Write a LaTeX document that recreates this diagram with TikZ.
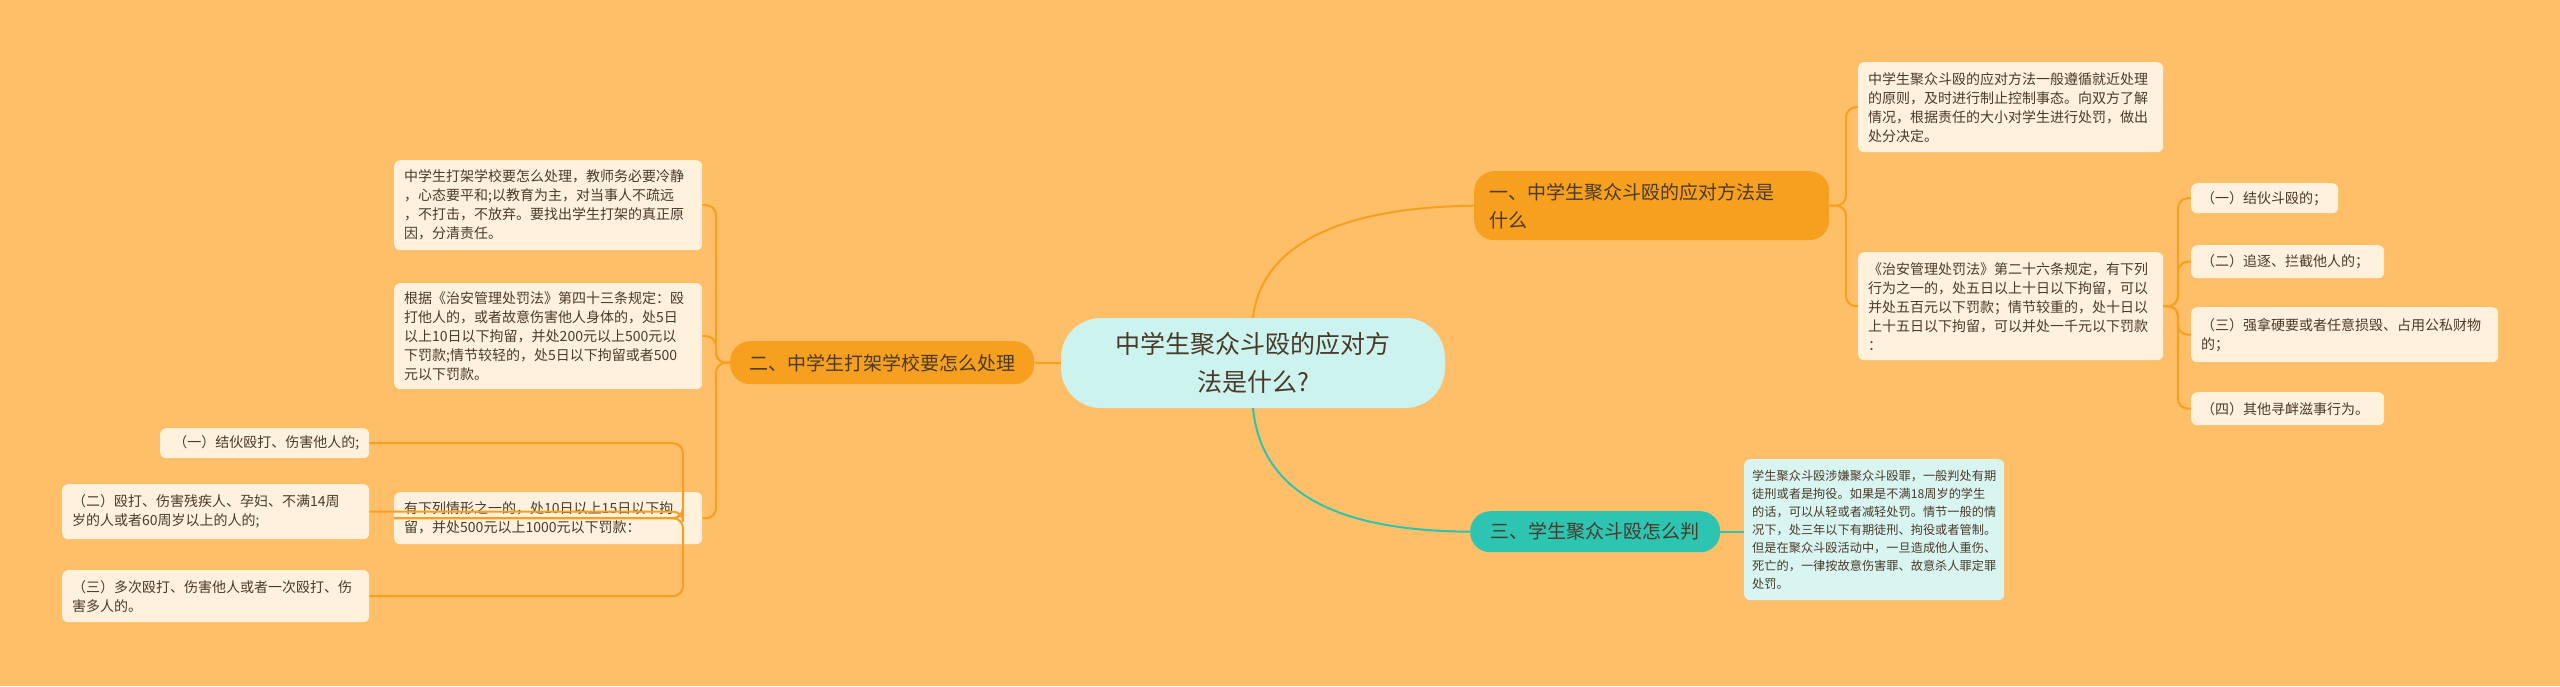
\documentclass[tikz,border=0pt]{standalone}
\usepackage{fontspec}
\setmainfont{Noto Sans CJK SC}
\definecolor{bg}{HTML}{FFBF69}
\definecolor{leaf}{HTML}{FFF1DC}
\definecolor{org}{HTML}{F79F1F}
\definecolor{teal}{HTML}{2EC4B2}
\definecolor{cfill}{HTML}{CDF3EF}
\definecolor{tleaf}{HTML}{D8F5F1}
\definecolor{txt}{HTML}{4A3A2A}
\tikzset{
 lf/.style={fill=leaf,rounded corners=6,anchor=north west,align=left,inner sep=0pt,text=txt,font=\fontsize{14}{19}\selectfont},
 br/.style={rounded corners=20,anchor=north west,inner sep=0pt,text=txt,font=\fontsize{19}{28}\selectfont,align=left},
 ol/.style={draw=org,line width=2pt,rounded corners=10},
 tl/.style={draw=teal,line width=2pt,rounded corners=10},
}
\begin{document}
\begin{tikzpicture}[x=1pt,y=-1pt]
\fill[bg] (0,0) rectangle (2560,686);
\useasboundingbox (0,0) rectangle (2560,686);
% center
\node[fill=cfill,rounded corners=40,minimum width=384,minimum height=90,text=txt,font=\fontsize{25}{38}\selectfont,align=center] (c) at (1253,363) {中学生聚众斗殴的应对方\\法是什么?};
% branches
\node[br,fill=org,minimum width=355,minimum height=69,text width=325,inner xsep=15pt] (b1) at (1474,171) {一、中学生聚众斗殴的应对方法是\\什么};
\node[br,fill=org,minimum width=304,minimum height=43,align=center] (b2) at (730,341) {二、中学生打架学校要怎么处理};
\node[br,fill=teal,minimum width=250,minimum height=41,align=center] (b3) at (1470,511) {三、学生聚众斗殴怎么判};
\draw[ol] (c.north) .. controls (1262,240) and (1350,207) .. (b1.west);
\draw[tl] (c.south) .. controls (1262,500) and (1350,531) .. (b3.west);
\draw[ol] (c.west) -- (b2.east);
% right leaves
\node[lf,minimum width=305,minimum height=90,text width=285,inner xsep=10pt] (a1) at (1858,62) {中学生聚众斗殴的应对方法一般遵循就近处理\\的原则，及时进行制止控制事态。向双方了解\\情况，根据责任的大小对学生进行处罚，做出\\处分决定。};
\node[lf,minimum width=305,minimum height=108,text width=285,inner xsep=10pt] (a2) at (1858,252) {《治安管理处罚法》第二十六条规定，有下列\\行为之一的，处五日以上十日以下拘留，可以\\并处五百元以下罚款；情节较重的，处十日以\\上十五日以下拘留，可以并处一千元以下罚款\\：};
\coordinate (r1) at (1846,0);
\foreach \n in {a1,a2} \draw[ol] (b1.east) -- (b1.east -| r1) |- (\n.west);
\node[lf,minimum width=147,minimum height=30,text width=127,inner xsep=10pt] (s1) at (2191,183) {（一）结伙斗殴的；};
\node[lf,minimum width=193,minimum height=33,text width=173,inner xsep=10pt] (s2) at (2191,245) {（二）追逐、拦截他人的；};
\node[lf,minimum width=307,minimum height=55,text width=287,inner xsep=10pt] (s3) at (2191,307) {（三）强拿硬要或者任意损毁、占用公私财物\\的；};
\node[lf,minimum width=193,minimum height=33,text width=173,inner xsep=10pt] (s4) at (2191,392) {（四）其他寻衅滋事行为。};
\coordinate (r2) at (2178,0);
\foreach \n in {s1,s2,s3,s4} \draw[ol] (a2.east) -- (a2.east -| r2) |- (\n.west);
% left leaves
\node[lf,minimum width=308,minimum height=90,text width=288,inner xsep=10pt] (l1) at (394,160) {中学生打架学校要怎么处理，教师务必要冷静\\，心态要平和;以教育为主，对当事人不疏远\\，不打击，不放弃。要找出学生打架的真正原\\因，分清责任。};
\node[lf,minimum width=308,minimum height=106,text width=288,inner xsep=10pt] (l2) at (394,283) {根据《治安管理处罚法》第四十三条规定：殴\\打他人的，或者故意伤害他人身体的，处5日\\以上10日以下拘留，并处200元以上500元以\\下罚款;情节较轻的，处5日以下拘留或者500\\元以下罚款。};
\node[lf,minimum width=308,minimum height=52,text width=288,inner xsep=10pt] (l3) at (394,492) {有下列情形之一的，处10日以上15日以下拘\\留，并处500元以上1000元以下罚款：};
\coordinate (q1) at (716,0);
\foreach \n in {l1,l2,l3} \draw[ol] (b2.west) -- (b2.west -| q1) |- (\n.east);
\node[lf,minimum width=209,minimum height=30,text width=189,inner xsep=10pt,align=right] (t1) at (160,428) {（一）结伙殴打、伤害他人的;};
\node[lf,minimum width=307,minimum height=55,text width=287,inner xsep=10pt] (t2) at (62,484) {（二）殴打、伤害残疾人、孕妇、不满14周\\岁的人或者60周岁以上的人的;};
\node[lf,minimum width=307,minimum height=52,text width=287,inner xsep=10pt] (t3) at (62,570) {（三）多次殴打、伤害他人或者一次殴打、伤\\害多人的。};
\coordinate (q2) at (683,0);
\foreach \n in {t1,t2,t3} \draw[ol] (l3.west) -- (l3.west -| q2) |- (\n.east);
% teal leaf
\node[lf,fill=tleaf,minimum width=260,minimum height=141,text width=244,inner xsep=8pt,font=\fontsize{12.2}{18}\selectfont] (m1) at (1744,459) {学生聚众斗殴涉嫌聚众斗殴罪，一般判处有期\\徒刑或者是拘役。如果是不满18周岁的学生\\的话，可以从轻或者减轻处罚。情节一般的情\\况下，处三年以下有期徒刑、拘役或者管制。\\但是在聚众斗殴活动中，一旦造成他人重伤、\\死亡的，一律按故意伤害罪、故意杀人罪定罪\\处罚。};
\draw[tl] (b3.east) -- (m1.west |- b3.east);
\end{tikzpicture}
\end{document}
